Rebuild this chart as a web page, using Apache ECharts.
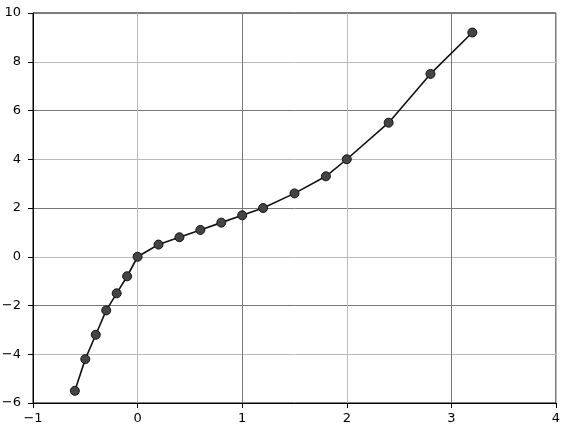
<!DOCTYPE html>
<html><head><meta charset="utf-8">
<script src="https://cdn.jsdelivr.net/npm/echarts@6/dist/echarts.min.js"></script>
<style>html,body{margin:0;padding:0;background:#fff}#c{width:573px;height:427px}</style>
</head><body><div id="c"></div>
<script>
const xValues = [-0.6, -0.5, -0.4, -0.3, -0.2, -0.1, 0, 0.2, 0.4, 0.6, 0.8, 1.0, 1.2, 1.5, 1.8, 2.0, 2.4, 2.8, 3.2];
const yValues = [-5.5, -4.2, -3.2, -2.2, -1.5, -0.8, 0, 0.5, 0.8, 1.1, 1.4, 1.7, 2.0, 2.6, 3.3, 4.0, 5.5, 7.5, 9.2];
const fmt = v => String(v).replace('-', '\u2212');
const chart = echarts.init(document.getElementById('c'));
chart.setOption({
  animation: false,
  grid: {left: 33, right: 17, top: 13, bottom: 24, show: true, borderColor: '#000', borderWidth: 1,
    containLabel: false, outerBoundsMode: 'none'},
  xAxis: {type: 'value', min: -1, max: 4, interval: 1,
    axisLine: {onZero: false, lineStyle: {color: '#000'}},
    axisTick: {show: true, length: 5, inside: false, lineStyle: {color: '#000'}},
    axisLabel: {color: '#000', fontFamily: 'DejaVu Sans', fontSize: 13, margin: 9, formatter: fmt},
    splitLine: {show: true, lineStyle: {color: ['#777', '#bbb'], width: 1}}},
  yAxis: {type: 'value', min: -6, max: 10, interval: 2,
    axisLine: {show: true, onZero: false, lineStyle: {color: '#000'}},
    axisTick: {show: true, length: 5, inside: false, lineStyle: {color: '#000'}},
    axisLabel: {color: '#000', fontFamily: 'DejaVu Sans', fontSize: 13, margin: 12, formatter: fmt},
    splitLine: {show: true, lineStyle: {color: ['#777', '#bbb'], width: 1}}},
  series: [{type: 'line', data: xValues.map((x, i) => [x, yValues[i]]),
    symbol: 'circle', symbolSize: 9,
    lineStyle: {color: '#111', width: 1.6},
    itemStyle: {color: '#444', borderColor: '#111', borderWidth: 1}}]
});
</script></body></html>
